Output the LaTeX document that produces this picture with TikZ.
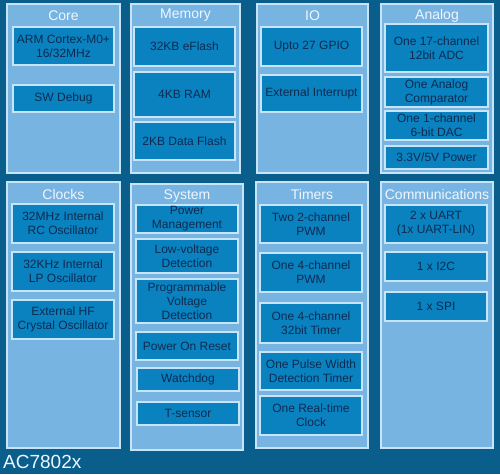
\documentclass[tikz,border=0pt]{standalone}
\usepackage{fontspec}
\setmainfont{Liberation Sans}
\definecolor{bgblue}{HTML}{0A5E8C}
\definecolor{panelblue}{HTML}{78B4E2}
\definecolor{boxblue}{HTML}{0A82C0}
\definecolor{edgelight}{HTML}{C8E4F8}
\definecolor{textdark}{HTML}{0D2B50}
\definecolor{titlelight}{HTML}{EEF6FF}
\tikzset{
  panel/.style={draw=edgelight, fill=panelblue, line width=1.2pt, inner sep=0pt},
  ibox/.style={draw=edgelight, fill=boxblue, line width=1.1pt, inner sep=0pt, align=center,
    text=textdark, font=\fontsize{12}{14}\selectfont},
  ptitle/.style={text=titlelight, inner sep=0pt, font=\fontsize{14}{16}\selectfont},
}
\newcommand\pnl[5]{\node[panel, minimum width={#4pt-#2pt}, minimum height={#5pt-#3pt}] (#1) at ({(#2+#4)/2},{(#3+#5)/2}) {};}
\newcommand\bx[6]{\node[ibox, minimum width={#4pt-#2pt}, minimum height={#5pt-#3pt}] (#1) at ({(#2+#4)/2},{(#3+#5)/2}) {#6};}
\begin{document}
\begin{tikzpicture}[x=1pt,y=-1pt]
\fill[bgblue] (0,0) rectangle (500,474);
\useasboundingbox (0,0) rectangle (500,474);
% panels
\pnl{core}{7}{4}{120}{173}
\pnl{memory}{131}{4}{240}{173}
\pnl{io}{257}{4}{368}{173}
\pnl{analog}{381}{4}{493}{173}
\pnl{clocks}{7}{182}{120}{448}
\pnl{system}{131}{184}{243}{450}
\pnl{timers}{256}{182}{368}{448}
\pnl{comm}{381}{182}{493}{448}
% titles
\node[ptitle] (tcore) at (63.5,15.5) {Core};
\node[ptitle] (tmem) at (185.5,15.5) {Memory};
\node[ptitle] (tio) at (312.5,15.5) {IO};
\node[ptitle] (tana) at (437,15.5) {Analog};
\node[ptitle] (tclk) at (63.5,194) {Clocks};
\node[ptitle] (tsys) at (187,196) {System};
\node[ptitle] (ttim) at (312,194) {Timers};
\node[ptitle] (tcom) at (437,194) {Communications};
% core
\bx{arm}{13}{27}{114}{65}{ARM Cortex-M0+\\16/32MHz}
\bx{swd}{13}{85}{114}{112}{SW Debug}
% memory
\bx{eflash}{134}{27}{235}{66}{32KB eFlash}
\bx{ram}{134}{72}{235}{117}{4KB RAM}
\bx{dflash}{134}{122}{235}{160}{2KB Data Flash}
% io
\bx{gpio}{261}{27}{362}{66}{Upto 27 GPIO}
\bx{extint}{261}{75}{362}{112}{External Interrupt}
% analog
\bx{adc}{385}{24}{488}{72}{One 17-channel\\12bit ADC}
\bx{comp}{385}{77}{488}{107}{One Analog\\Comparator}
\bx{dac}{385}{111}{488}{140}{One 1-channel\\6-bit DAC}
\bx{pwr}{385}{146}{488}{169}{3.3V/5V Power}
% clocks
\bx{rc}{12}{204}{114}{243}{32MHz Internal\\RC Oscillator}
\bx{lp}{12}{252}{114}{291}{32KHz Internal\\LP Oscillator}
\bx{hf}{12}{300}{114}{339}{External HF\\Crystal Oscillator}
% system
\bx{pm}{136}{205}{238}{233}{Power\\Management}
\bx{lvd}{136}{239}{238}{273}{Low-voltage\\Detection}
\bx{pvd}{136}{279}{238}{323}{Programmable\\Voltage\\Detection}
\bx{por}{136}{332}{238}{360}{Power On Reset}
\bx{wdg}{137}{368}{239}{391}{Watchdog}
\bx{ts}{137}{402}{239}{425}{T-sensor}
% timers
\bx{pwm2}{260}{205}{362}{243}{Two 2-channel\\PWM}
\bx{pwm4}{260}{253}{362}{292}{One 4-channel\\PWM}
\bx{tmr32}{260}{303}{362}{343}{One 4-channel\\32bit Timer}
\bx{pwd}{260}{352}{362}{390}{One Pulse Width\\Detection Timer}
\bx{rtc}{260}{396}{362}{435}{One Real-time\\Clock}
% communications
\bx{uart}{385}{205}{487}{243}{2 x UART\\(1x UART-LIN)}
\bx{i2c}{385}{252}{487}{281}{1 x I2C}
\bx{spi}{385}{292}{487}{321}{1 x SPI}
% chip name
\node[anchor=south west, inner sep=0pt, text=titlelight, font=\fontsize{19}{21}\selectfont] (chip) at (3,469) {AC7802x};
\end{tikzpicture}
\end{document}
